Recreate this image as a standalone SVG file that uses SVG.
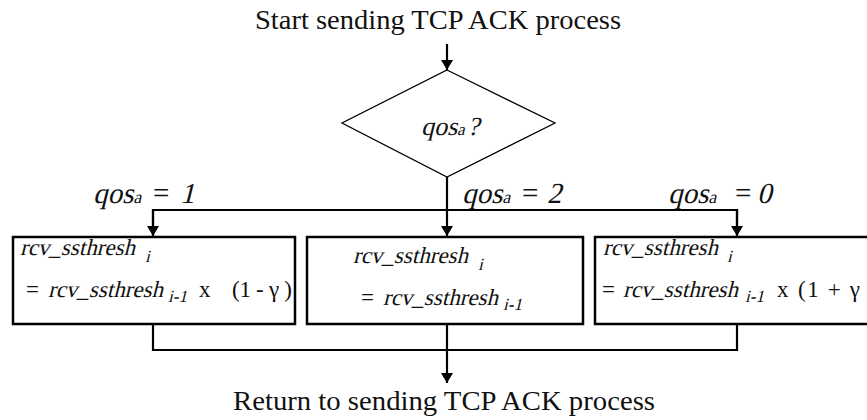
<svg xmlns="http://www.w3.org/2000/svg" width="867" height="420" viewBox="0 0 867 420">
<style>
.t{font-family:"Liberation Serif","Times New Roman",serif;fill:#111}
.title{font-size:28px}
.lab{font-size:29px}
.sub{font-size:18px}
.bx{font-size:23px}
.bs{font-size:17px}
.ln{stroke:#000;stroke-width:2.2;fill:none}
.nd{stroke:#000;stroke-width:2.5;fill:#fff}
.dm{stroke:#000;stroke-width:1.3;fill:#fff}
</style>
<defs>
<marker id="ah" viewBox="0 0 10 12" refX="10" refY="6" markerWidth="10" markerHeight="12" markerUnits="userSpaceOnUse" orient="auto">
<path d="M0,0 L10,6 L0,12 Z" fill="#000"/>
</marker>
</defs>
<rect width="867" height="420" fill="#fff"/>
<g id="start">
<text class="t title" x="255" y="29" textLength="366" lengthAdjust="spacingAndGlyphs">Start sending TCP ACK process</text>
</g>
<g id="connectors">
<line class="ln" x1="447" y1="44" x2="447" y2="70" marker-end="url(#ah)"/>
<line class="ln" x1="447" y1="177" x2="447" y2="210"/>
<polyline class="ln" points="153,237 153,210 737,210 737,237"/>
<line class="ln" x1="153" y1="210" x2="153" y2="236" marker-end="url(#ah)"/>
<line class="ln" x1="447" y1="210" x2="447" y2="236" marker-end="url(#ah)"/>
<line class="ln" x1="737" y1="210" x2="737" y2="236" marker-end="url(#ah)"/>
<polyline class="ln" points="153,324 153,350 737,350 737,324"/>
<line class="ln" x1="447" y1="324" x2="447" y2="383" marker-end="url(#ah)"/>
<text class="t lab" transform="translate(93,203) skewX(-14)">qos<tspan class="sub">a</tspan></text>
<text class="t lab" x="153" y="203">=</text>
<text class="t lab" transform="translate(180,203) skewX(-14)">1</text>
<text class="t lab" transform="translate(462,203) skewX(-14)">qos<tspan class="sub">a</tspan></text>
<text class="t lab" x="522" y="203">=</text>
<text class="t lab" transform="translate(547,203) skewX(-14)">2</text>
<text class="t lab" transform="translate(668,203) skewX(-14)">qos<tspan class="sub">a</tspan></text>
<text class="t lab" x="735" y="203">=</text>
<text class="t lab" transform="translate(757,203) skewX(-14)">0</text>
</g>
<g id="decision">
<polygon class="dm" points="447,70 555,123 447,177 342,123"/>
<text class="t" font-size="26" transform="translate(421,135) skewX(-14)">qos<tspan font-size="17">a</tspan><tspan dx="3">?</tspan></text>
</g>
<g id="box-left">
<rect class="nd" x="13" y="237" width="282" height="87"/>
<text class="t bx" transform="translate(20,255) skewX(-14)">rcv_ssthresh</text>
<text class="t bs" transform="translate(145,262) skewX(-14)">i</text>
<text class="t bx" x="26" y="297">=</text>
<text class="t bx" transform="translate(48,297) skewX(-14)">rcv_ssthresh</text>
<text class="t bs" transform="translate(168,302) skewX(-14)">i-1</text>
<text class="t bx" x="199" y="297">x</text>
<text class="t bx" x="232" y="297" textLength="60" lengthAdjust="spacing">(1 - γ )</text>
</g>
<g id="box-middle">
<rect class="nd" x="307" y="237" width="276" height="87"/>
<text class="t bx" transform="translate(353,263) skewX(-14)">rcv_ssthresh</text>
<text class="t bs" transform="translate(478,270) skewX(-14)">i</text>
<text class="t bx" x="361" y="305">=</text>
<text class="t bx" transform="translate(383,305) skewX(-14)">rcv_ssthresh</text>
<text class="t bs" transform="translate(503,310) skewX(-14)">i-1</text>
</g>
<g id="box-right">
<rect class="nd" x="595" y="237" width="290" height="87"/>
<text class="t bx" transform="translate(603,255) skewX(-14)">rcv_ssthresh</text>
<text class="t bs" transform="translate(727,262) skewX(-14)">i</text>
<text class="t bx" x="602" y="297">=</text>
<text class="t bx" transform="translate(623,297) skewX(-14)">rcv_ssthresh</text>
<text class="t bs" transform="translate(745,302) skewX(-14)">i-1</text>
<text class="t bx" x="777" y="297">x</text>
<text class="t bx" x="798" y="297" textLength="62" lengthAdjust="spacing">(1 + γ</text>
</g>
<g id="end">
<text class="t title" x="233" y="410" textLength="422" lengthAdjust="spacingAndGlyphs">Return to sending TCP ACK process</text>
</g>
</svg>
